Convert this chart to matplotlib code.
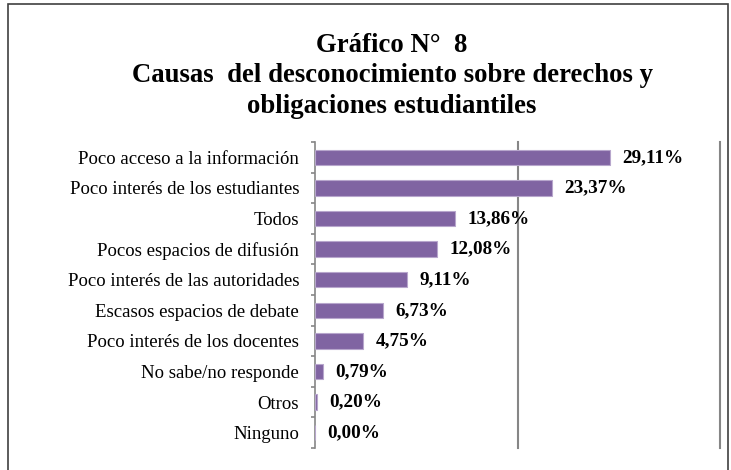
import matplotlib.pyplot as plt
from matplotlib.patches import Rectangle
import numpy as np

# Data
categories = ['Poco acceso a la información', 'Poco interés de los estudiantes',
              'Todos', 'Pocos espacios de difusión',
              'Poco interés de las autoridades', 'Escasos espacios de debate',
              'Poco interés de los docentes', 'No sabe/no responde',
              'Otros', 'Ninguno']
values = [29.11, 23.37, 13.86, 12.08, 9.11, 6.73, 4.75, 0.79, 0.20, 0.00]
labels = ['29,11%', '23,37%', '13,86%', '12,08%', '9,11%', '6,73%',
          '4,75%', '0,79%', '0,20%', '0,00%']

plt.rcParams['font.family'] = ['Liberation Serif', 'DejaVu Serif']

W, H = 731, 470
fig = plt.figure(figsize=(W / 100, H / 100), dpi=100)

# axes placed in pixel terms
left, right, top, bottom = 315, 720, 142, 448
ax = fig.add_axes([left / W, 1 - bottom / H, (right - left) / W, (bottom - top) / H])

y = np.arange(len(categories))
ax.barh(y, values, height=0.5, color='#8064A2', edgecolor='#B7A6CC', linewidth=0.8,
        zorder=3)
ax.set_ylim(len(categories) - 0.5, -0.5)
ax.set_xlim(0, 40)

# gridlines at 20% and 40%
for gx in [20, 40]:
    ax.axvline(gx, color='#868686', linewidth=1.5, zorder=1, clip_on=False)

for s in ['top', 'right', 'bottom']:
    ax.spines[s].set_visible(False)
ax.spines['left'].set_color('#868686')
ax.spines['left'].set_linewidth(1.2)
ax.set_xticks([])

ax.set_yticks(y)
ax.set_yticklabels(categories, fontsize=13.5)
ax.tick_params(axis='y', which='major', length=0, pad=11.5)
ax.set_yticks(np.arange(-0.5, len(categories)), minor=True)
ax.tick_params(axis='y', which='minor', length=3, width=1.2, color='#868686')

for yi, v, lab in zip(y, values, labels):
    ax.annotate(lab, xy=(v, yi), xytext=(9, 0), textcoords='offset points',
                ha='left', va='center', fontsize=13.8, fontweight='bold', zorder=4)

fig.text(392 / W, 1 - 76 / H,
         'Gráfico N°  8\nCausas  del desconocimiento sobre derechos y\nobligaciones estudiantiles',
         ha='center', va='center', fontsize=19.3, fontweight='bold', linespacing=1.28)

# outer chart border (bottom edge falls off the image)
fig.patches.append(Rectangle((8 / W, -0.05), (728 - 8) / W, 1.05 - 4 / H,
                             transform=fig.transFigure, fill=False,
                             edgecolor='#404040', linewidth=1.2))

fig.savefig('out.png', dpi=100)
